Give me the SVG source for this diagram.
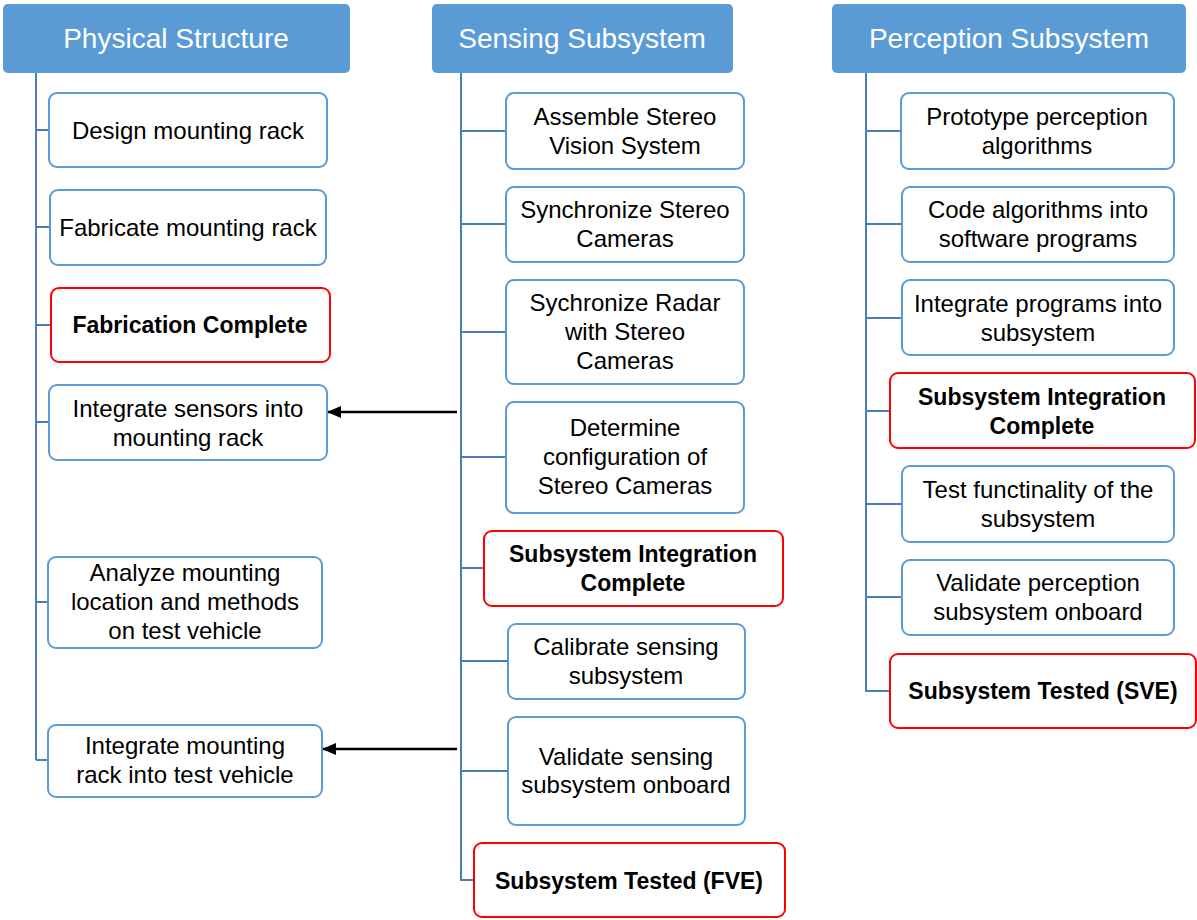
<svg xmlns="http://www.w3.org/2000/svg" width="1197" height="920" viewBox="0 0 1197 920">
<style>
.hdr{fill:#5b9bd5;}
.ht{font-family:"Liberation Sans",Arial,sans-serif;font-size:28px;fill:#fff;text-anchor:middle;}
.box{fill:#fff;stroke:#5b9bd5;stroke-width:2;}
.ms{fill:#fff;stroke:#ff0000;stroke-width:2;}
.t{font-family:"Liberation Sans",Arial,sans-serif;font-size:24px;fill:#000;text-anchor:middle;}
.b{font-family:"Liberation Sans",Arial,sans-serif;font-size:23px;font-weight:bold;fill:#000;text-anchor:middle;}
.tr{stroke:#4a7ebb;stroke-width:2;fill:none;}
.ar{stroke:#000;stroke-width:2.5;fill:none;marker-end:url(#ah);}
</style>
<defs>
<marker id="ah" markerWidth="14" markerHeight="12" refX="13" refY="6" orient="auto" markerUnits="userSpaceOnUse">
<path d="M0,0 L14,6 L0,12 z" fill="#000"/>
</marker>
</defs>
<rect width="1197" height="920" fill="#fff"/>
<g id="connectors">
<path class="tr" d="M36,73 V760 M36,130 H49 M36,227 H50 M36,325 H51 M36,422 H49 M36,602 H48 M36,760 H48"/>
<path class="tr" d="M461,73 V880 H474 M461,131 H506 M461,224 H506 M461,332 H506 M461,457 H506 M461,568 H484 M461,661 H508 M461,771 H508"/>
<path class="tr" d="M866,73 V691 H890 M866,131 H901 M866,224 H902 M866,318 H902 M866,411 H890 M866,504 H902 M866,597 H902"/>
<line class="ar" x1="457" y1="412" x2="328" y2="412"/>
<line class="ar" x1="457" y1="749" x2="323" y2="749"/>
</g>
<g id="h1"><rect class="hdr" x="3" y="4" width="347" height="69" rx="5"/><text class="ht" x="176" y="48">Physical Structure</text></g>
<g id="h2"><rect class="hdr" x="432" y="4" width="301" height="69" rx="5"/><text class="ht" x="582" y="48">Sensing Subsystem</text></g>
<g id="h3"><rect class="hdr" x="832" y="4" width="354" height="69" rx="5"/><text class="ht" x="1009" y="48">Perception Subsystem</text></g>

<g id="p1"><rect class="box" x="49" y="93" width="278" height="74" rx="8"/><text class="t" x="188" y="139">Design mounting rack</text></g>
<g id="p2"><rect class="box" x="50" y="190" width="276" height="75" rx="8"/><text class="t" x="188" y="236">Fabricate mounting rack</text></g>
<g id="p3"><rect class="ms" x="51" y="288" width="279" height="74" rx="8"/><text class="b" x="190" y="333">Fabrication Complete</text></g>
<g id="p4"><rect class="box" x="49" y="385" width="278" height="75" rx="8"/><text class="t" x="188" y="417">Integrate sensors into</text><text class="t" x="188" y="446">mounting rack</text></g>
<g id="p5"><rect class="box" x="48" y="557" width="274" height="91" rx="8"/><text class="t" x="185" y="581">Analyze mounting</text><text class="t" x="185" y="610">location and methods</text><text class="t" x="185" y="639">on test vehicle</text></g>
<g id="p6"><rect class="box" x="48" y="725" width="274" height="72" rx="8"/><text class="t" x="185" y="754">Integrate mounting</text><text class="t" x="185" y="783">rack into test vehicle</text></g>

<g id="s1"><rect class="box" x="506" y="93" width="238" height="76" rx="8"/><text class="t" x="625" y="125">Assemble Stereo</text><text class="t" x="625" y="154">Vision System</text></g>
<g id="s2"><rect class="box" x="506" y="187" width="238" height="75" rx="8"/><text class="t" x="625" y="218">Synchronize Stereo</text><text class="t" x="625" y="247">Cameras</text></g>
<g id="s3"><rect class="box" x="506" y="280" width="238" height="104" rx="8"/><text class="t" x="625" y="311">Sychronize Radar</text><text class="t" x="625" y="340">with Stereo</text><text class="t" x="625" y="369">Cameras</text></g>
<g id="s4"><rect class="box" x="506" y="402" width="238" height="111" rx="8"/><text class="t" x="625" y="436">Determine</text><text class="t" x="625" y="465">configuration of</text><text class="t" x="625" y="494">Stereo Cameras</text></g>
<g id="s5"><rect class="ms" x="484" y="531" width="299" height="75" rx="8"/><text class="b" x="633" y="562">Subsystem Integration</text><text class="b" x="633" y="591">Complete</text></g>
<g id="s6"><rect class="box" x="508" y="624" width="237" height="75" rx="8"/><text class="t" x="626" y="655">Calibrate sensing</text><text class="t" x="626" y="684">subsystem</text></g>
<g id="s7"><rect class="box" x="508" y="717" width="237" height="108" rx="8"/><text class="t" x="626" y="765">Validate sensing</text><text class="t" x="626" y="793">subsystem onboard</text></g>
<g id="s8"><rect class="ms" x="474" y="843" width="311" height="74" rx="8"/><text class="b" x="629" y="889">Subsystem Tested (FVE)</text></g>

<g id="r1"><rect class="box" x="901" y="93" width="273" height="76" rx="8"/><text class="t" x="1037" y="125">Prototype perception</text><text class="t" x="1037" y="154">algorithms</text></g>
<g id="r2"><rect class="box" x="902" y="187" width="272" height="75" rx="8"/><text class="t" x="1038" y="218">Code algorithms into</text><text class="t" x="1038" y="247">software programs</text></g>
<g id="r3"><rect class="box" x="902" y="280" width="272" height="75" rx="8"/><text class="t" x="1038" y="312">Integrate programs into</text><text class="t" x="1038" y="341">subsystem</text></g>
<g id="r4"><rect class="ms" x="890" y="373" width="305" height="75" rx="8"/><text class="b" x="1042" y="405">Subsystem Integration</text><text class="b" x="1042" y="434">Complete</text></g>
<g id="r5"><rect class="box" x="902" y="466" width="272" height="76" rx="8"/><text class="t" x="1038" y="498">Test functinality of the</text><text class="t" x="1038" y="527">subsystem</text></g>
<g id="r6"><rect class="box" x="902" y="560" width="272" height="75" rx="8"/><text class="t" x="1038" y="591">Validate perception</text><text class="t" x="1038" y="620">subsystem onboard</text></g>
<g id="r7"><rect class="ms" x="890" y="654" width="306" height="74" rx="8"/><text class="b" x="1043" y="699">Subsystem Tested (SVE)</text></g>
</svg>
